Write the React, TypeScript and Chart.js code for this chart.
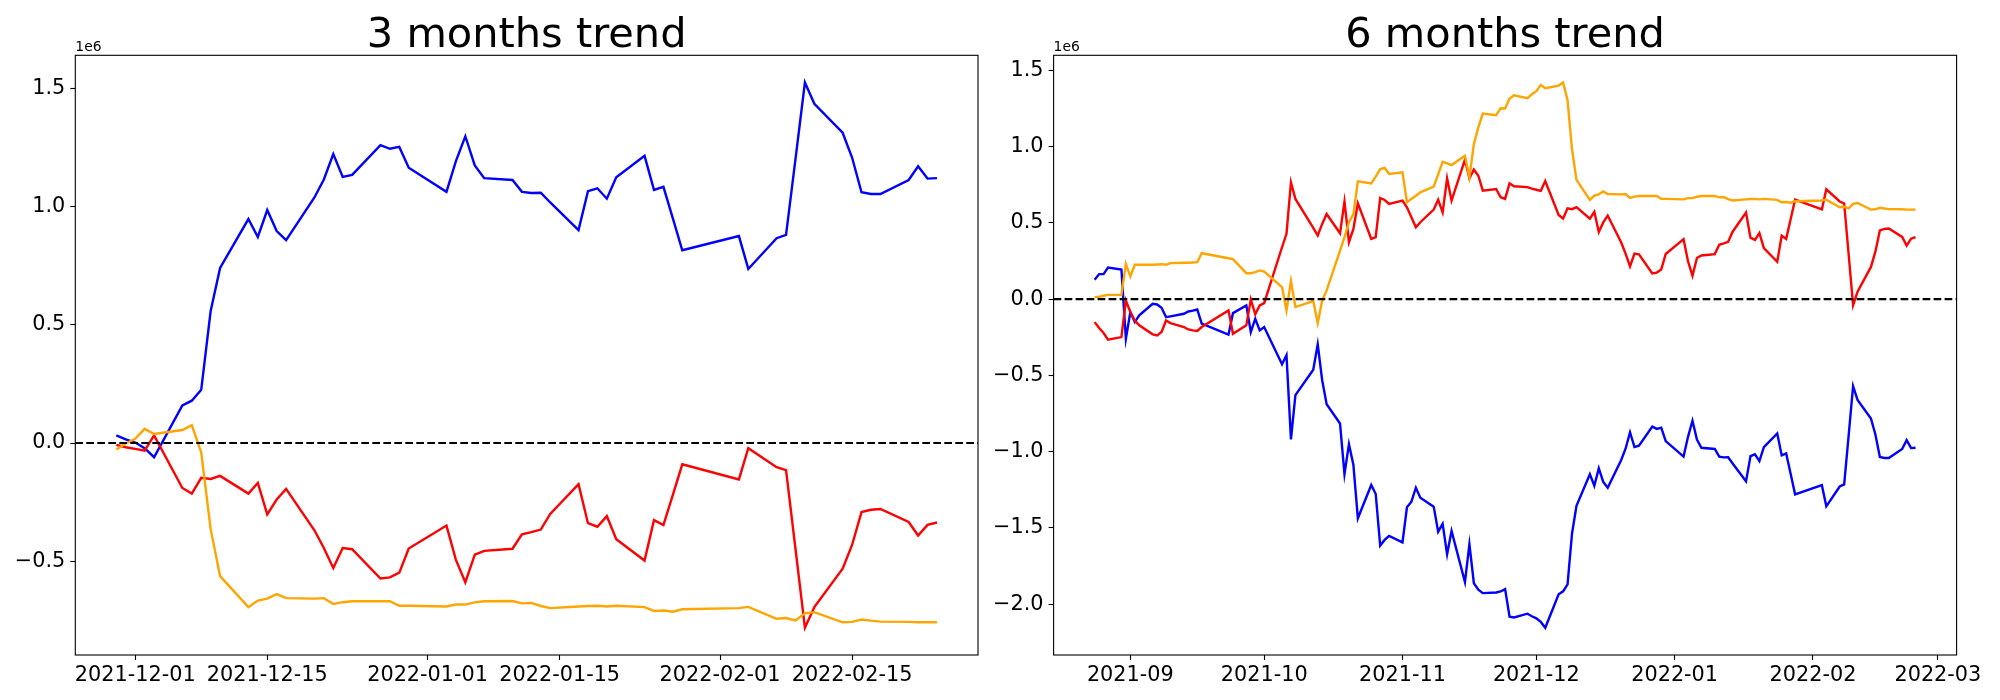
import React, { useEffect, useRef } from "react";
import { Chart, registerables } from "chart.js";

Chart.register(...registerables);

// ---------- categories (KRX trading days) ----------
const days = (month: string, list: number[]) => list.map((n) => `${month}-${String(n).padStart(2, "0")}`);

const dates6m: string[] = [
  ...days("2021-08", [24, 25, 26, 27, 30, 31]),
  ...days("2021-09", [1, 2, 3, 6, 7, 8, 9, 10, 13, 14, 15, 16, 17, 23, 24, 27, 28, 29, 30]),
  ...days("2021-10", [1, 5, 6, 7, 8, 12, 13, 14, 15, 18, 19, 20, 21, 22, 25, 26, 27, 28, 29]),
  ...days("2021-11", [1, 2, 3, 4, 5, 8, 9, 10, 11, 12, 15, 16, 17, 18, 19, 22, 23, 24, 25, 26, 29, 30]),
  ...days("2021-12", [1, 2, 3, 6, 7, 8, 9, 10, 13, 14, 15, 16, 17, 20, 21, 22, 23, 24, 27, 28, 29, 30]),
  ...days("2022-01", [3, 4, 5, 6, 7, 10, 11, 12, 13, 14, 17, 18, 19, 20, 21, 24, 25, 26, 27, 28]),
  ...days("2022-02", [3, 4, 7, 8, 9, 10, 11, 14, 15, 16, 17, 18, 21, 22, 23, 24]),
];
const dates3m: string[] = dates6m.slice(64); // 2021-11-29 .. 2022-02-24

// ---------- 3 months trend (values in 1e6) ----------
const blue3m: number[] = [
  0.032, 0.015,
  0.002, -0.022, -0.06, 0.159, 0.179, 0.225, 0.558, 0.74, 0.947, 0.871, 0.985, 0.896, 0.858, 1.038, 1.114, 1.222, 1.125, 1.134, 1.259, 1.244, 1.252, 1.164,
  1.062, 1.192, 1.297, 1.174, 1.12, 1.112, 1.062, 1.057, 1.058, 1.017, 0.9, 1.065, 1.077, 1.033, 1.124, 1.214, 1.07, 1.083, 0.95, 0.815,
  0.875, 0.736, 0.866, 0.88, 1.2, 1.524, 1.434, 1.312, 1.207, 1.06, 1.053, 1.053, 1.112, 1.17, 1.118, 1.12,
];
const red3m: number[] = [
  -0.008, -0.018,
  -0.025, -0.032, 0.032, -0.19, -0.214, -0.147, -0.152, -0.139, -0.214, -0.169, -0.302, -0.239, -0.194, -0.369, -0.444, -0.528, -0.444, -0.449, -0.573, -0.568, -0.548, -0.446,
  -0.349, -0.494, -0.589, -0.472, -0.456, -0.447, -0.386, -0.377, -0.366, -0.3, -0.174, -0.339, -0.354, -0.309, -0.407, -0.497, -0.326, -0.347, -0.219, -0.09,
  -0.154, -0.022, -0.102, -0.115, -0.447, -0.781, -0.694, -0.531, -0.431, -0.292, -0.282, -0.279, -0.334, -0.391, -0.346, -0.336,
];
const orange3m: number[] = [
  -0.027, -0.002,
  0.018, 0.06, 0.038, 0.055, 0.075, -0.04, -0.364, -0.563, -0.694, -0.666, -0.658, -0.639, -0.656, -0.658, -0.656, -0.681, -0.673, -0.669, -0.669, -0.669, -0.688, -0.688,
  -0.691, -0.683, -0.683, -0.674, -0.669, -0.668, -0.678, -0.676, -0.689, -0.698, -0.691, -0.689, -0.688, -0.691, -0.688, -0.694, -0.71, -0.708, -0.713, -0.703,
  -0.698, -0.693, -0.743, -0.74, -0.75, -0.72, -0.715, -0.758, -0.756, -0.746, -0.751, -0.755, -0.756, -0.758, -0.758, -0.758,
];

// ---------- 6 months trend (values in 1e6) ----------
const blue6m: number[] = [
  0.127, 0.164, 0.164, 0.207, 0.194, -0.26,
  -0.085, -0.151, -0.107, -0.031, -0.035, -0.057, -0.118, -0.113, -0.096, -0.081, -0.076, -0.068, -0.161, -0.233, -0.092, -0.041, -0.216, -0.129, -0.205,
  -0.183, -0.427, -0.368, -0.92, -0.63, -0.463, -0.297, -0.532, -0.689, -0.816, -1.147, -0.951, -1.088, -1.437, -1.219, -1.278, -1.616, -1.579, -1.553,
  -1.595, -1.365, -1.328, -1.237, -1.302, -1.361, -1.525, -1.474, -1.673, -1.52, -1.856, -1.607, -1.863, -1.906, -1.928, -1.924, -1.917, -1.902, -2.083, -2.088, -2.063, -2.08,
  -2.093, -2.117, -2.155, -1.936, -1.916, -1.87, -1.537, -1.355, -1.148, -1.224, -1.11, -1.199, -1.237, -1.057, -0.981, -0.873, -0.97, -0.961, -0.836, -0.851, -0.843, -0.931,
  -1.033, -0.903, -0.798, -0.921, -0.975, -0.983, -1.033, -1.038, -1.037, -1.078, -1.195, -1.03, -1.018, -1.062, -0.971, -0.881, -1.025, -1.012, -1.145, -1.28,
  -1.22, -1.359, -1.229, -1.215, -0.895, -0.571, -0.661, -0.783, -0.888, -1.035, -1.042, -1.042, -0.983, -0.925, -0.977, -0.975,
];
const red6m: number[] = [
  -0.151, -0.19, -0.222, -0.266, -0.249, -0.009,
  -0.085, -0.14, -0.172, -0.231, -0.238, -0.216, -0.14, -0.157, -0.183, -0.199, -0.205, -0.209, -0.183, -0.074, -0.227, -0.172, -0.002, -0.1, -0.041,
  -0.026, 0.34, 0.428, 0.766, 0.657, 0.467, 0.417, 0.493, 0.558, 0.432, 0.639, 0.373, 0.46, 0.628, 0.395, 0.406, 0.663, 0.65, 0.624,
  0.646, 0.602, 0.537, 0.471, 0.504, 0.587, 0.652, 0.569, 0.792, 0.646, 0.914, 0.792, 0.849, 0.809, 0.711, 0.722, 0.668, 0.657, 0.759, 0.74, 0.734, 0.724,
  0.717, 0.71, 0.774, 0.552, 0.528, 0.595, 0.59, 0.603, 0.528, 0.573, 0.44, 0.503, 0.548, 0.373, 0.298, 0.214, 0.298, 0.293, 0.169, 0.174, 0.194, 0.296,
  0.393, 0.248, 0.153, 0.27, 0.286, 0.295, 0.356, 0.365, 0.376, 0.442, 0.568, 0.403, 0.388, 0.433, 0.335, 0.245, 0.416, 0.395, 0.523, 0.652,
  0.588, 0.72, 0.64, 0.627, 0.295, -0.039, 0.048, 0.211, 0.311, 0.45, 0.46, 0.463, 0.408, 0.351, 0.396, 0.406,
];
const orange6m: number[] = [
  0.013, 0.015, 0.022, 0.028, 0.028, 0.231,
  0.148, 0.225, 0.225, 0.225, 0.227, 0.229, 0.225, 0.236, 0.238, 0.238, 0.24, 0.242, 0.301, 0.268, 0.262, 0.17, 0.17, 0.177, 0.188,
  0.181, 0.079, -0.074, 0.118, -0.052, -0.013, -0.157, -0.009, 0.057, 0.318, 0.406, 0.504, 0.558, 0.772, 0.759, 0.803, 0.853, 0.86, 0.82,
  0.831, 0.635, 0.657, 0.678, 0.7, 0.737, 0.818, 0.901, 0.89, 0.879, 0.94, 0.798, 1.017, 1.126, 1.217, 1.206, 1.252, 1.25, 1.315, 1.337, 1.318, 1.343,
  1.363, 1.405, 1.383, 1.4, 1.42, 1.305, 0.981, 0.782, 0.651, 0.679, 0.687, 0.706, 0.689, 0.687, 0.689, 0.664, 0.672, 0.676, 0.676, 0.676, 0.657, 0.657,
  0.654, 0.662, 0.662, 0.671, 0.676, 0.677, 0.667, 0.669, 0.656, 0.647, 0.654, 0.656, 0.657, 0.654, 0.657, 0.651, 0.635, 0.637, 0.632, 0.642,
  0.647, 0.652, 0.602, 0.605, 0.595, 0.625, 0.63, 0.587, 0.589, 0.599, 0.594, 0.59, 0.589, 0.587, 0.587, 0.587,
];

// ---------- tick labels ----------
const xTicks3m: string[] = ["2021-12-01", "2021-12-15", "2022-01-01", "2022-01-15", "2022-02-01", "2022-02-15"];
const xTicks6m: string[] = ["2021-09-01", "2021-10-01", "2021-11-01", "2021-12-01", "2022-01-01", "2022-02-01", "2022-03-01"];
const yTicks3m: number[] = [-0.5, 0.0, 0.5, 1.0, 1.5];
const yTicks6m: number[] = [-2.0, -1.5, -1.0, -0.5, 0.0, 0.5, 1.0, 1.5];

const FONT = "'DejaVu Sans', sans-serif";
const BLUE = "#0000ff";
const RED = "#ff0000";
const ORANGE = "#ffa500";

const toDay = (s: string) => Date.UTC(+s.slice(0, 4), +s.slice(5, 7) - 1, +s.slice(8, 10)) / 864e5;
const fmtDay = (v: number, monthOnly: boolean) => {
  const d = new Date(Math.round(v) * 864e5);
  const y = d.getUTCFullYear();
  const m = String(d.getUTCMonth() + 1).padStart(2, "0");
  const dd = String(d.getUTCDate()).padStart(2, "0");
  return monthOnly ? `${y}-${m}` : `${y}-${m}-${dd}`;
};
const fmtY = (v: number) => (Math.abs(v) < 1e-9 ? "0.0" : v.toFixed(1).replace("-", "\u2212"));

interface PanelSpec {
  title: string;
  dates: string[];
  blue: number[];
  red: number[];
  orange: number[];
  xTicks: string[];
  yTicks: number[];
  monthOnly: boolean;
  axisLeft: number;
  padRight: number;
}

const framePlugin = {
  id: "frame",
  afterDraw(chart: any, _args: any, opts: any) {
    const { ctx, chartArea: a } = chart;
    ctx.save();
    ctx.strokeStyle = "#000";
    ctx.lineWidth = 1.1;
    ctx.strokeRect(a.left, a.top, a.right - a.left, a.bottom - a.top);
    ctx.fillStyle = "#000";
    ctx.textBaseline = "alphabetic";
    ctx.textAlign = "center";
    ctx.font = `41.5px ${FONT}`;
    ctx.fillText(opts.title, (a.left + a.right) / 2, a.top - 8.3);
    ctx.textAlign = "left";
    ctx.font = `13.9px ${FONT}`;
    ctx.fillText("1e6", a.left, a.top - 4.2);
    ctx.restore();
  },
};

function buildConfig(p: PanelSpec): any {
  const xs = p.dates.map(toDay);
  const x0 = xs[0];
  const x1 = xs[xs.length - 1];
  const xm = (x1 - x0) * 0.05;
  const all = [...p.blue, ...p.red, ...p.orange];
  const lo = Math.min(...all);
  const hi = Math.max(...all);
  const ym = (hi - lo) * 0.05;
  const xmin = x0 - xm;
  const xmax = x1 + xm;

  const series = (vals: number[], color: string, order: number) => ({
    data: vals.map((v, i) => ({ x: xs[i], y: v })),
    borderColor: color,
    backgroundColor: color,
    borderWidth: 2.4,
    pointRadius: 0,
    tension: 0,
    fill: false,
    order,
  });

  const tickGrid = {
    display: true,
    drawOnChartArea: false,
    drawTicks: true,
    tickLength: 5,
    tickColor: "#000",
    tickWidth: 1.1,
  };

  return {
    type: "line",
    data: {
      datasets: [
        series(p.blue, BLUE, 3),
        series(p.red, RED, 2),
        series(p.orange, ORANGE, 1),
        {
          data: [
            { x: xmin, y: 0 },
            { x: xmax, y: 0 },
          ],
          borderColor: "#000",
          borderWidth: 2.1,
          borderDash: [7.7, 3.3],
          pointRadius: 0,
          fill: false,
          order: 0,
        },
      ],
    },
    options: {
      responsive: false,
      animation: false,
      events: [],
      layout: { padding: { left: 0, right: p.padRight, top: 55.3, bottom: 0 } },
      plugins: {
        legend: { display: false },
        tooltip: { enabled: false },
        title: { display: false },
        frame: { title: p.title },
      },
      scales: {
        x: {
          type: "linear",
          min: xmin,
          max: xmax,
          afterBuildTicks: (s: any) => {
            s.ticks = p.xTicks.map((t) => ({ value: toDay(t) }));
          },
          afterFit: (s: any) => {
            s.height = 45;
          },
          ticks: {
            callback: (v: number) => fmtDay(v, p.monthOnly),
            font: { family: FONT, size: 20.8 },
            color: "#000",
            padding: 3,
            autoSkip: false,
            maxRotation: 0,
            minRotation: 0,
          },
          grid: tickGrid,
          border: { display: false },
        },
        y: {
          type: "linear",
          min: lo - ym,
          max: hi + ym,
          afterBuildTicks: (s: any) => {
            s.ticks = p.yTicks.map((t) => ({ value: t }));
          },
          afterFit: (s: any) => {
            s.width = p.axisLeft;
          },
          ticks: {
            callback: (v: number) => fmtY(v),
            font: { family: FONT, size: 20.8 },
            color: "#000",
            padding: 5,
            autoSkip: false,
          },
          grid: tickGrid,
          border: { display: false },
        },
      },
    },
    plugins: [framePlugin],
  };
}

function Panel({ spec, left, width }: { spec: PanelSpec; left: number; width: number }) {
  const ref = useRef<HTMLCanvasElement>(null);
  useEffect(() => {
    const chart = new Chart(ref.current as HTMLCanvasElement, buildConfig(spec));
    return () => chart.destroy();
  }, [spec]);
  return (
    <canvas
      ref={ref}
      width={width}
      height={700}
      style={{ position: "absolute", left, top: 0, width, height: 700, display: "block" }}
    />
  );
}

const spec3m: PanelSpec = {
  title: "3 months trend",
  dates: dates3m,
  blue: blue3m,
  red: red3m,
  orange: orange3m,
  xTicks: xTicks3m,
  yTicks: yTicks3m,
  monthOnly: false,
  axisLeft: 75.3,
  padRight: 22,
};

const spec6m: PanelSpec = {
  title: "6 months trend",
  dates: dates6m,
  blue: blue6m,
  red: red6m,
  orange: orange6m,
  xTicks: xTicks6m,
  yTicks: yTicks6m,
  monthOnly: true,
  axisLeft: 73.6,
  padRight: 43.4,
};

export default function App() {
  return (
    <div style={{ position: "absolute", left: 0, top: 0, width: 2000, height: 700, background: "#fff", overflow: "hidden" }}>
      <Panel spec={spec3m} left={0} width={1000} />
      <Panel spec={spec6m} left={980} width={1020} />
    </div>
  );
}
